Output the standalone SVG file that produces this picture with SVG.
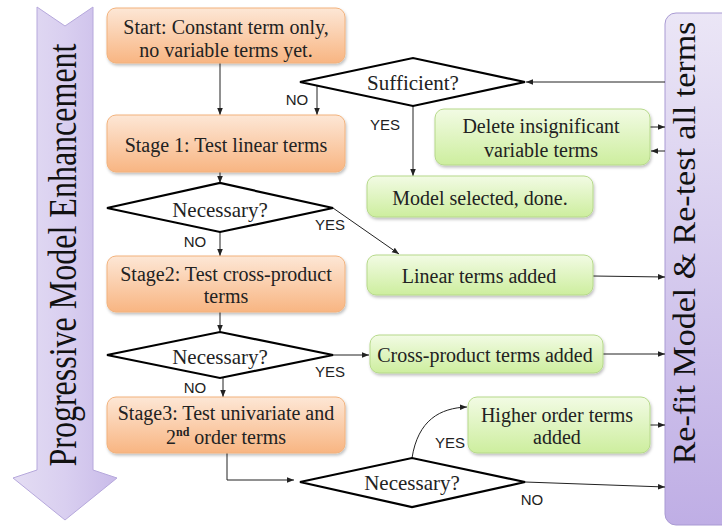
<svg xmlns="http://www.w3.org/2000/svg" width="722" height="529" viewBox="0 0 722 529">
<style>
.box text{font-family:'Liberation Serif','Times New Roman',serif;font-size:20px;fill:#222;text-anchor:middle}
.box text.dt{font-size:21px}
.lbl{font-family:'Liberation Sans',Arial,sans-serif;font-size:15px;fill:#222;text-anchor:middle}
.or{fill:url(#gOr);stroke:#f2b27c;stroke-width:1}
.gr{fill:url(#gGr);stroke:#b6d98a;stroke-width:1}
.dm{fill:#fff;stroke:#000;stroke-width:2.2}
.cn path,.cn line{fill:none;stroke:#222;stroke-width:1}
.big{font-family:'Liberation Serif','Times New Roman',serif;fill:#111;text-anchor:middle}
</style>
<defs>
<linearGradient id="gOr" x1="0" y1="0" x2="0" y2="1"><stop offset="0" stop-color="#fde7d6"/><stop offset="1" stop-color="#f8b582"/></linearGradient>
<linearGradient id="gGr" x1="0" y1="0" x2="0" y2="1"><stop offset="0" stop-color="#f2fbe4"/><stop offset="1" stop-color="#cdee9e"/></linearGradient>
<linearGradient id="gPu" x1="0" y1="0" x2="0" y2="1"><stop offset="0" stop-color="#ebe6f6"/><stop offset="1" stop-color="#bfaee5"/></linearGradient>
<linearGradient id="gPuL" x1="0" y1="0" x2="1" y2="0"><stop offset="0" stop-color="#e4ddf3"/><stop offset="0.5" stop-color="#d9cff0"/><stop offset="1" stop-color="#c9bbe9"/></linearGradient>
<filter id="sh" x="-10%" y="-10%" width="120%" height="130%"><feDropShadow dx="1" dy="2" stdDeviation="1.5" flood-color="#000" flood-opacity="0.25"/></filter>
<marker id="ah" viewBox="0 0 10 10" refX="10" refY="5" markerWidth="7" markerHeight="7" orient="auto" markerUnits="userSpaceOnUse"><path d="M0,1 L10,5 L0,9 z" fill="#222"/></marker>
</defs>

<g id="progressive">
<polygon points="37,7 65,26 93,7 93,470 117,478 65,520 13,478 37,470" fill="url(#gPuL)" stroke="#b6a8dc" stroke-width="1"/>
<text class="big" font-size="32" transform="translate(76,255) rotate(-90) scale(1,1.25)">Progressive Model Enhancement</text>
</g>

<g id="refit">
<rect x="665" y="13" width="80" height="512" rx="11" fill="url(#gPu)" stroke="#a99ad3" stroke-width="1"/>
<text class="big" font-size="34" transform="translate(695,243) rotate(-90) scale(1,0.92)">Re-fit Model &amp; Re-test all terms</text>
</g>

<g class="cn" id="connectors">
<line x1="220" y1="63" x2="220" y2="115" marker-end="url(#ah)"/>
<line x1="317" y1="86" x2="317" y2="115" marker-end="url(#ah)"/>
<line x1="413" y1="106" x2="413" y2="176" marker-end="url(#ah)"/>
<line x1="665" y1="82" x2="526" y2="82" marker-end="url(#ah)"/>
<line x1="650" y1="127" x2="665" y2="127" marker-end="url(#ah)"/>
<line x1="665" y1="151" x2="651" y2="151" marker-end="url(#ah)"/>
<line x1="220" y1="172" x2="220" y2="183" marker-end="url(#ah)"/>
<line x1="333" y1="208" x2="399" y2="254" marker-end="url(#ah)"/>
<line x1="220" y1="232" x2="220" y2="256" marker-end="url(#ah)"/>
<line x1="593" y1="276" x2="665" y2="277" marker-end="url(#ah)"/>
<line x1="220" y1="312" x2="220" y2="332" marker-end="url(#ah)"/>
<line x1="333" y1="355" x2="369" y2="355" marker-end="url(#ah)"/>
<line x1="223" y1="378" x2="223" y2="397" marker-end="url(#ah)"/>
<line x1="603" y1="354" x2="665" y2="354" marker-end="url(#ah)"/>
<path d="M227,453 V480 H294" marker-end="url(#ah)"/>
<path d="M412,458 C418,420 440,408 467,407" marker-end="url(#ah)"/>
<line x1="650" y1="425" x2="665" y2="425" marker-end="url(#ah)"/>
<line x1="525" y1="482" x2="665" y2="487" marker-end="url(#ah)"/>
<text class="lbl" x="297" y="105">NO</text>
<text class="lbl" x="385" y="130">YES</text>
<text class="lbl" x="330" y="230">YES</text>
<text class="lbl" x="195" y="247">NO</text>
<text class="lbl" x="330" y="377">YES</text>
<text class="lbl" x="195" y="393">NO</text>
<text class="lbl" x="450" y="448">YES</text>
<text class="lbl" x="532" y="505">NO</text>
</g>

<g id="start" class="box"><rect class="or" x="107" y="8" width="238" height="55" rx="9" filter="url(#sh)"/><text x="226" y="34">Start: Constant term only,</text><text x="226" y="57">no variable terms yet.</text></g>
<g id="stage1" class="box"><rect class="or" x="107" y="115" width="238" height="57" rx="9" filter="url(#sh)"/><text x="226" y="152">Stage 1: Test linear terms</text></g>
<g id="stage2" class="box"><rect class="or" x="107" y="256" width="238" height="56" rx="9" filter="url(#sh)"/><text x="226" y="281">Stage2: Test cross-product</text><text x="226" y="303">terms</text></g>
<g id="stage3" class="box"><rect class="or" x="107" y="397" width="238" height="56" rx="9" filter="url(#sh)"/><text x="226" y="420">Stage3: Test univariate and</text><text x="226" y="444">2<tspan font-size="12" dy="-8" font-weight="bold">nd</tspan><tspan dy="8"> order terms</tspan></text></g>

<g id="sufficient" class="box"><polygon class="dm" points="300,82 413,58 525,82 413,106"/><text class="dt" x="413" y="90">Sufficient?</text></g>
<g id="necessary1" class="box"><polygon class="dm" points="107,208 220,183 333,208 220,232"/><text class="dt" x="220" y="217">Necessary?</text></g>
<g id="necessary2" class="box"><polygon class="dm" points="107,355 220,332 333,355 220,378"/><text class="dt" x="220" y="364">Necessary?</text></g>
<g id="necessary3" class="box"><polygon class="dm" points="300,482 412,458 525,482 412,507"/><text class="dt" x="412" y="490">Necessary?</text></g>

<g id="delete" class="box"><rect class="gr" x="435" y="109" width="215" height="56" rx="9" filter="url(#sh)"/><text x="541" y="133">Delete insignificant</text><text x="541" y="157">variable terms</text></g>
<g id="selected" class="box"><rect class="gr" x="367" y="176" width="226" height="41" rx="9" filter="url(#sh)"/><text x="480" y="205">Model selected, done.</text></g>
<g id="linear" class="box"><rect class="gr" x="367" y="255" width="226" height="40" rx="9" filter="url(#sh)"/><text x="479" y="283">Linear terms added</text></g>
<g id="crossprod" class="box"><rect class="gr" x="370" y="335" width="233" height="38" rx="9" filter="url(#sh)"/><text x="485" y="362">Cross-product terms added</text></g>
<g id="higher" class="box"><rect class="gr" x="468" y="397" width="182" height="56" rx="9" filter="url(#sh)"/><text x="557" y="422">Higher order terms</text><text x="557" y="444">added</text></g>
</svg>
